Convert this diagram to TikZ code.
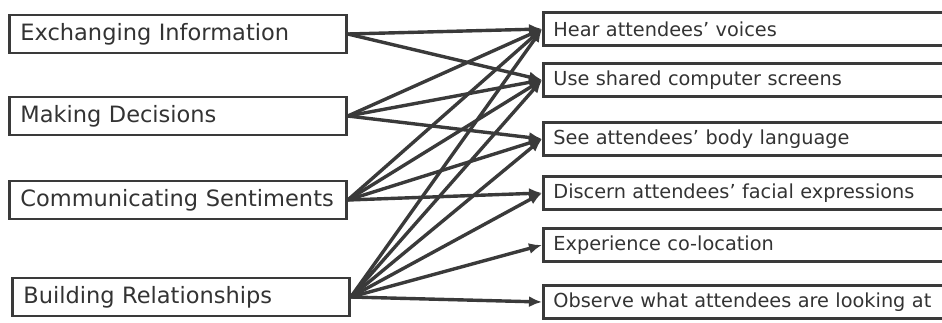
\documentclass[tikz,border=0pt]{standalone}
\usepackage{fontspec}
\setmainfont{DejaVu Sans}
\usetikzlibrary{arrows.meta}
\definecolor{ink}{HTML}{3A3A3A}
\definecolor{txt}{HTML}{333333}

\begin{document}
\begin{tikzpicture}[x=1pt, y=-1pt,
  purpose/.style={draw=ink, line width=2.8pt, anchor=west, minimum width=337pt, minimum height=38pt, inner xsep=11pt, text=txt, font=\fontsize{22.5}{25}\selectfont, align=left, text width=315pt},
  need/.style={draw=ink, line width=2.8pt, anchor=west, minimum width=430pt, minimum height=33pt, inner xsep=10pt, text=txt, font=\fontsize{19.3}{22}\selectfont, align=left, text width=410pt},
  link/.style={draw=ink, line width=3.4pt, -{Latex[length=13pt, width=11pt]}}]
\clip (0, 0) rectangle (942, 322);

% purposes
\node [purpose] (exch) at (8, 34) {Exchanging Information};
\node [purpose] (dec) at (8, 116) {Making Decisions};
\node [purpose] (sent) at (8, 200) {Communicating Sentiments};
\node [purpose] (rel) at (11, 297) {Building Relationships};

% needs
\node [need] (voice) at (542, 29) {Hear attendees’ voices};
\node [need] (screen) at (542, 80) {Use shared computer screens};
\node [need] (body) at (542, 139) {See attendees’ body language};
\node [need] (face) at (542, 193) {Discern attendees’ facial expressions};
\node [need] (coloc) at (542, 245) {Experience co-location};
\node [need] (gaze) at (542, 302) {Observe what attendees are looking at};

\draw [link] (exch.east) -- (voice.west);
\draw [link] (exch.east) -- (screen.west);

\draw [link] (dec.east) -- (voice.west);
\draw [link] (dec.east) -- (screen.west);
\draw [link] (dec.east) -- (body.west);

\draw [link] (sent.east) -- (voice.west);
\draw [link] (sent.east) -- (screen.west);
\draw [link] (sent.east) -- (body.west);
\draw [link] (sent.east) -- (face.west);

\draw [link] (rel.east) -- (voice.west);
\draw [link] (rel.east) -- (screen.west);
\draw [link] (rel.east) -- (body.west);
\draw [link] (rel.east) -- (face.west);
\draw [link] (rel.east) -- (coloc.west);
\draw [link] (rel.east) -- (gaze.west);
\end{tikzpicture}
\end{document}
